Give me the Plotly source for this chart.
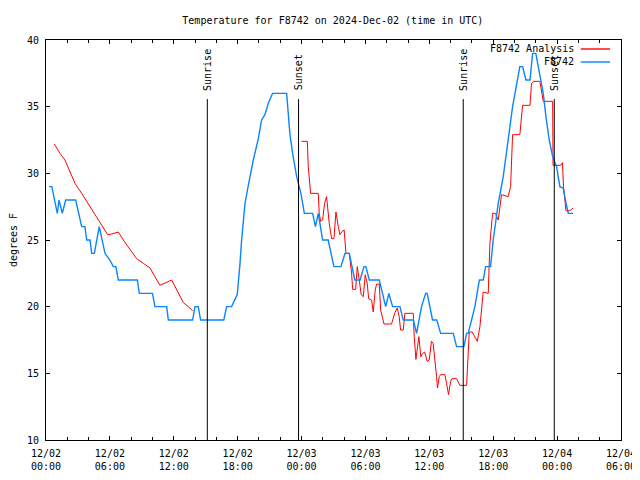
import pandas as pd
import plotly.graph_objects as go

BASE = pd.Timestamp("2024-12-02 00:00")

# Observed station temperatures (hours after 12/02 00:00 UTC, degrees F)
obs_hours = [0.28, 0.55, 1.06, 1.22, 1.53, 1.85, 2.79, 3.35, 3.66, 3.82, 4.13, 4.29, 4.54, 5.0, 5.54,
             6.0, 6.32, 6.56, 6.79, 8.58, 8.76, 10.0, 10.23, 11.33, 11.49, 13.77, 13.99, 14.3, 14.52,
             16.7, 16.96, 17.43, 17.96, 18.15, 18.22, 18.37, 18.53, 18.69, 19.0, 19.47, 19.94, 20.25,
             20.56, 20.88, 21.28, 22.6, 22.75, 22.9, 23.16, 23.54, 23.94, 24.26, 25.04, 25.3, 25.57,
             25.98, 26.5, 27.04, 27.7, 28.08, 28.48, 29.0, 29.5, 29.86, 30.04, 30.36, 31.3, 31.6, 31.9,
             32.2, 32.55, 33.24, 33.55, 34.5, 34.8, 35.27, 35.65, 35.8, 36.3, 36.7, 37.06, 38.25, 38.56,
             39.25, 39.5, 39.65, 40.0, 40.28, 40.7, 41.06, 41.29, 41.75, 42.0, 42.47, 42.94, 43.26,
             43.57, 43.82, 44.2, 44.5, 44.76, 45.07, 45.45, 45.7, 46.0, 46.32, 46.7, 46.95, 47.26,
             47.58, 47.95, 48.26, 48.57, 48.83, 49.05, 49.5]
obs_temps = [29.0, 29.0, 27.0, 28.0, 27.0, 28.0, 28.0, 26.0, 26.0, 25.0, 25.0, 24.0, 24.0, 26.0, 24.0,
             23.5, 23.0, 23.0, 22.0, 22.0, 21.0, 21.0, 20.0, 20.0, 19.0, 19.0, 20.0, 20.0, 19.0,
             19.0, 20.0, 20.0, 20.9, 22.5, 23.25, 25.0, 26.5, 27.75, 29.1, 31.0, 32.6, 34.0,
             34.4, 35.25, 36.0, 36.0, 34.5, 33.0, 31.5, 29.75, 28.5, 27.0, 27.0, 26.0, 27.0,
             25.0, 25.0, 23.0, 23.0, 24.0, 24.0, 22.0, 22.0, 23.0, 23.0, 22.0, 22.0, 21.0, 20.0,
             21.0, 20.0, 20.0, 19.0, 19.0, 18.0, 20.0, 21.0, 21.0, 19.0, 19.0, 18.0, 18.0, 17.0,
             17.0, 18.0, 18.0, 19.0, 20.0, 22.0, 22.0, 23.0, 23.0, 25.0, 27.75, 29.75, 31.5,
             33.5, 35.0, 36.75, 38.0, 38.0, 37.0, 37.0, 39.0, 39.0, 37.75, 36.0, 34.25, 32.5,
             31.25, 30.5, 29.0, 28.9, 27.8, 27.0, 27.0]

# Analysis temperatures (None = gap in the analysis record)
ana_hours = [0.78, 1.31, 1.78, 2.25, 2.72, 3.35, 4.13, 5.07, 5.79, 6.17, 6.79, 7.26, 7.89, 8.51, 9.14,
             9.77, 10.23, 10.7, 11.8, 12.27, 12.9, 13.36, 13.77, 18.0,
             24.0, 24.54, 24.63, 24.85, 25.57, 25.66, 25.79, 25.98, 26.16, 26.35, 26.6, 26.82, 27.04,
             27.23, 27.45, 27.6, 27.77, 28.0, 28.17, 28.48, 28.7, 28.8, 29.08, 29.23, 29.42, 29.6,
             29.8, 29.98, 30.17, 30.3, 30.58, 30.73, 30.92, 31.05, 31.3, 31.43, 31.74, 32.45, 32.77,
             32.99, 33.17, 33.3, 33.55, 33.7, 34.49, 34.58, 34.74, 34.87, 35.02, 35.2, 35.37, 35.56,
             35.8, 35.99, 36.2, 36.36, 36.55, 36.68, 36.77, 36.93, 37.06, 37.46, 37.62, 37.8, 38.0,
             38.12, 38.56, 38.87, 39.5, 39.65, 39.75, 40.03, 40.31, 40.5, 40.75, 40.9, 41.06, 41.53,
             41.69, 41.94, 42.2, 42.47, 42.78, 43.4, 43.63, 43.82, 44.5, 44.76, 45.45, 45.6, 45.82,
             46.38, 46.7, 47.58, 47.62, 48.33, 48.5, 48.6, 48.83, 49.2, 49.5]
ana_temps = [32.2, 31.5, 31.0, 30.1, 29.25, 28.5, 27.5, 26.25, 25.4, 25.45, 25.6, 25.0, 24.25, 23.6, 23.25,
             22.9, 22.25, 21.6, 22.0, 21.25, 20.3, 20.0, 19.7, None,
             32.4, 32.4, 30.5, 28.5, 28.5, 27.0, 26.4, 26.5, 27.75, 28.25, 26.25, 25.1, 25.1,
             27.1, 26.0, 25.4, 25.6, 25.75, 24.0, 24.0, 22.5, 21.3, 21.3, 23.0, 22.0, 20.9,
             20.75, 22.4, 21.75, 20.6, 20.5, 19.6, 21.25, 21.7, 21.7, 19.75, 18.7, 18.7, 19.55,
             19.9, 19.25, 18.25, 18.25, 19.5, 19.5, 17.75, 16.05, 17.0, 17.75, 16.25, 16.5, 16.6,
             15.9, 16.0, 17.4, 17.25, 16.0, 14.75, 13.9, 14.75, 14.9, 14.9, 14.25, 13.4, 14.4,
             14.6, 14.6, 14.1, 14.1, 16.0, 18.1, 18.1, 17.7, 17.4, 18.5, 20.0, 21.1, 21.0,
             24.75, 27.0, 27.0, 26.5, 28.4, 28.25, 29.0, 32.9, 32.9, 35.1, 35.1, 36.75, 36.9,
             36.9, 35.4, 35.4, 30.6, 30.6, 30.8, 29.0, 27.2, 27.2, 27.4]

sun_labels = ["Sunrise", "Sunset", "Sunrise", "Sunset"]
sun_times = ["2024-12-02 15:09", "2024-12-02 23:43", "2024-12-03 15:11", "2024-12-03 23:44"]

major_hours = list(range(0, 55, 6))
major_text = [(BASE + pd.Timedelta(hours=h)).strftime("%m/%d<br>%H:%M") for h in major_hours]
minor_hours = [h for h in range(0, 55, 2) if h % 6 != 0]
y_ticks = [10, 15, 20, 25, 30, 35, 40]

legend_names = ["F8742 Analysis", "F8742"]
RED = "#ff0000"
BLUE = "#0a84ff"
FONT = "DejaVu Sans Mono"


def to_time(hours):
    return [BASE + pd.Timedelta(hours=h) for h in hours]


fig = go.Figure()
fig.add_trace(go.Scatter(x=to_time(ana_hours), y=ana_temps, mode="lines", name=legend_names[0],
                         line=dict(color=RED, width=1), connectgaps=False, showlegend=False))
fig.add_trace(go.Scatter(x=to_time(obs_hours), y=obs_temps, mode="lines", name=legend_names[1],
                         line=dict(color=BLUE, width=1.4), showlegend=False))

for lab, t in zip(sun_labels, sun_times):
    ts = pd.Timestamp(t)
    fig.add_shape(type="line", x0=ts, x1=ts, y0=10, y1=35.57, xref="x", yref="y",
                  line=dict(color="black", width=1))
    fig.add_annotation(x=ts, y=36.05, xref="x", yref="y", text=lab, textangle=-90,
                       showarrow=False, xanchor="center", yanchor="bottom",
                       font=dict(family=FONT, size=10, color="black"))

# gnuplot-style key: text on the left, line sample on the right
for i, (name, col) in enumerate(zip(legend_names, [RED, BLUE])):
    yk = 0.9775 - i * 0.0325
    fig.add_annotation(x=0.921, y=yk, xref="paper", yref="paper", text=name, showarrow=False,
                       xanchor="right", yanchor="middle", font=dict(family=FONT, size=10, color="black"))
    fig.add_shape(type="line", x0=0.930, x1=0.981, y0=yk, y1=yk, xref="paper", yref="paper",
                  line=dict(color=col, width=1.4))

fig.update_layout(
    width=632, height=464,
    margin=dict(l=38, r=19, t=32, b=32, autoexpand=False),
    paper_bgcolor="white", plot_bgcolor="white",
    font=dict(family=FONT, size=10, color="black"),
    title=dict(text="Temperature for F8742 on 2024-Dec-02 (time in UTC)", x=0.514, xanchor="center",
               xref="container", yref="container", y=0.9741, yanchor="middle",
               font=dict(family=FONT, size=10), automargin=False),
    showlegend=False,
)
fig.update_xaxes(
    type="date", range=[BASE, BASE + pd.Timedelta(hours=54)], automargin=False,
    tickmode="array", tickvals=to_time(major_hours), ticktext=major_text,
    ticks="inside", ticklen=4, tickcolor="black", showline=True, linecolor="black", linewidth=1,
    mirror="ticks", showgrid=False, zeroline=False, ticklabelstandoff=4,
    ticklabeloverflow="allow",
    minor=dict(tickmode="array", tickvals=to_time(minor_hours), ticks="inside", ticklen=3,
               tickcolor="black", showgrid=False),
)
fig.update_yaxes(
    range=[10, 40], tickmode="array", tickvals=y_ticks, ticktext=[str(v) for v in y_ticks],
    automargin=False,
    ticks="inside", ticklen=4, tickcolor="black", showline=True, linecolor="black", linewidth=1,
    mirror="ticks", showgrid=False, zeroline=False, ticklabelstandoff=4,
    title=dict(text="degrees F", standoff=10, font=dict(family=FONT, size=10)),
)

fig.write_html("out.html")
